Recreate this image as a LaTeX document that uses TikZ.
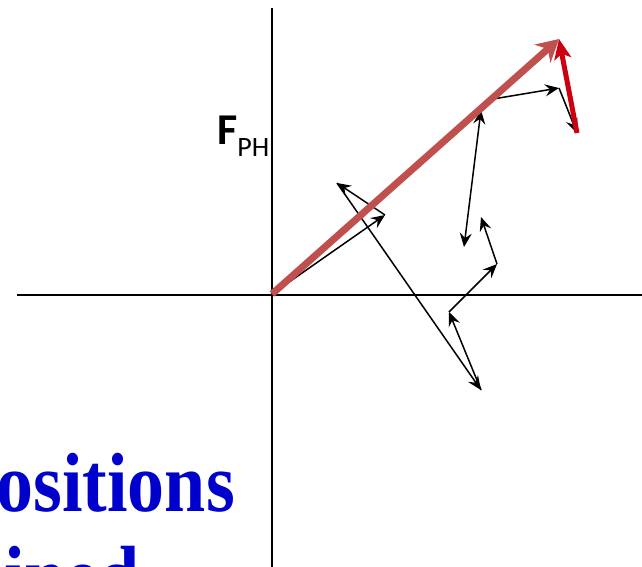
\documentclass[tikz,border=0pt]{standalone}
\usepackage{fontspec}
\setmainfont{Liberation Serif}
\newfontfamily\labelfont{Carlito}
\usetikzlibrary{arrows.meta}
\definecolor{sumred}{RGB}{192,80,77}
\definecolor{heavyred}{RGB}{204,0,17}
\definecolor{titleblue}{RGB}{0,0,204}
\tikzset{
  axis/.style      = {line width=1.6pt,black},
  vec/.style       = {-{Stealth[length=14pt,width=12pt,inset=5pt]},line width=1.5pt},
  bothvec/.style   = {{Stealth[length=14pt,width=12pt,inset=5pt]}-{Stealth[length=14pt,width=12pt,inset=5pt]},line width=1.5pt},
  resultant/.style = {-{Stealth[length=22pt,width=24pt,inset=7pt]},line width=7pt,color=sumred},
  heavyvec/.style  = {-{Stealth[length=20pt,width=17pt,inset=5pt]},line width=5pt,color=heavyred},
  title/.style     = {font=\bfseries\fontsize{84}{84}\selectfont,text=titleblue,inner sep=0pt},
}

\begin{document}
\begin{tikzpicture}[x=1pt,y=-1pt]
  \useasboundingbox (0,0) rectangle (642,566);

  % axes
  \coordinate (ytop) at (272,8);
  \coordinate (ybot) at (272,570);
  \coordinate (xleft) at (17,295);
  \coordinate (xright) at (642,295);
  \draw[axis] (ytop) -- (ybot);
  \draw[axis] (xleft) -- (xright);

  % steps of the walk
  \coordinate (o) at (272,294);
  \coordinate (pa) at (385,215);
  \coordinate (pb) at (337,183);
  \coordinate (pc) at (481,390);
  \coordinate (pd) at (449,312);
  \coordinate (pe) at (497,264);
  \coordinate (pf) at (481,217);
  \coordinate (pg) at (464,247);
  \coordinate (ph) at (481,110);
  \coordinate (pi) at (493,99);
  \coordinate (pj) at (559,88);
  \coordinate (pk) at (577,133);
  \coordinate (tip) at (559,39);

  \foreach \s/\t in {o/pa,pa/pb,pb/pc,pc/pd,pd/pe,pe/pf,pi/pj,pj/pk}
    \draw[vec] (\s) -- (\t);
  \draw[bothvec] (pg) -- (ph);

  \draw[resultant] (o) -- (tip);
  \draw[heavyvec] (pk) -- (tip);

  \node[anchor=base west,inner sep=0pt] (fph) at (217,144)
    {\labelfont{\fontsize{44}{44}\selectfont\bfseries F}\raisebox{-12pt}{\fontsize{28}{28}\selectfont PH}};

  \node[title,anchor=base east] (line1) at (235,511) {\scalebox{0.88}[1]{Positions}};
  \node[title,anchor=base east] (line2) at (140,604) {\scalebox{0.88}[1]{determined}};
\end{tikzpicture}
\end{document}
